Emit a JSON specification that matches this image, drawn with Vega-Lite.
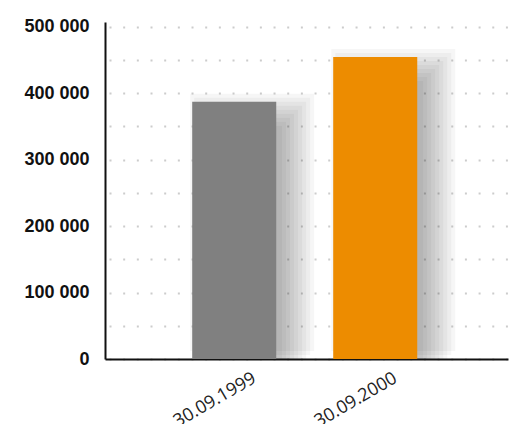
{
  "$schema": "https://vega.github.io/schema/vega-lite/v6.json",
  "width": 403,
  "height": 337,
  "autosize": "none",
  "padding": {"left": 105, "top": 22, "right": 9, "bottom": 65},
  "background": "#ffffff",
  "data": {"values": [
    {"date": "30.09.1999", "value": 387000},
    {"date": "30.09.2000", "value": 454500}
  ]},
  "encoding": {
    "x": {"field": "date", "type": "nominal", "sort": null,
      "scale": {"paddingInner": 0.404, "paddingOuter": 0.631, "align": 0.49},
      "axis": {"title": null, "labelAngle": -30, "labelAlign": "right", "labelBaseline": "top",
        "labelOffset": 16, "labelPadding": 10, "ticks": false, "grid": false,
        "labelFont": "Open Sans", "labelFontSize": 18, "labelColor": "#222222",
        "domainColor": "#111111", "domainWidth": 2}},
    "y": {"field": "value", "type": "quantitative",
      "scale": {"domain": [0, 507000], "nice": false, "zero": true},
      "axis": {"title": null, "values": [0, 50000, 100000, 150000, 200000, 250000, 300000, 350000, 400000, 450000, 500000],
        "labelExpr": "datum.value % 100000 == 0 ? replace(format(datum.value, ','), ',', ' ') : ''",
        "ticks": false, "labelPadding": 16, "labelFont": "Liberation Sans", "labelFontSize": 18,
        "labelFontWeight": "bold", "labelColor": "#111111",
        "domainColor": "#111111", "domainWidth": 2,
        "grid": true, "gridColor": "#cccccc", "gridWidth": 2, "gridDash": [2, 11.67], "gridDashOffset": 9.67}}
  },
  "layer": [
    {"mark": {"type": "bar", "color": "#000000", "opacity": 0.035, "xOffset": 18, "yOffset": 24, "width": 60, "clip": true}},
    {"mark": {"type": "bar", "color": "#000000", "opacity": 0.035, "xOffset": 18, "yOffset": 20, "width": 68, "clip": true}},
    {"mark": {"type": "bar", "color": "#000000", "opacity": 0.035, "xOffset": 18, "yOffset": 16, "width": 76, "clip": true}},
    {"mark": {"type": "bar", "color": "#000000", "opacity": 0.035, "xOffset": 18, "yOffset": 12, "width": 84, "clip": true}},
    {"mark": {"type": "bar", "color": "#000000", "opacity": 0.035, "xOffset": 18, "yOffset": 8, "width": 92, "clip": true}},
    {"mark": {"type": "bar", "color": "#000000", "opacity": 0.035, "xOffset": 18, "yOffset": 4, "width": 100, "clip": true}},
    {"mark": {"type": "bar", "color": "#000000", "opacity": 0.035, "xOffset": 18, "yOffset": 0, "width": 108, "clip": true}},
    {"mark": {"type": "bar", "color": "#000000", "opacity": 0.035, "xOffset": 18, "yOffset": -4, "width": 116, "clip": true}},
    {"mark": {"type": "bar", "color": "#000000", "opacity": 0.035, "xOffset": 18, "yOffset": -8, "width": 124, "clip": true}},
    {"mark": {"type": "bar"},
      "encoding": {"color": {"field": "date", "type": "nominal", "legend": null,
        "scale": {"domain": ["30.09.1999", "30.09.2000"], "range": ["#808080", "#ED8C00"]}}}}
  ],
  "config": {"view": {"stroke": null}}
}
